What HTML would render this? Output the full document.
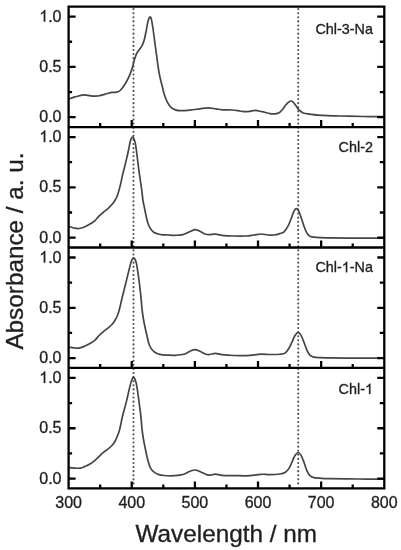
<!DOCTYPE html>
<html><head><meta charset="utf-8"><title>Absorbance spectra</title>
<style>
html,body{margin:0;padding:0;background:#fff;}
body{width:401px;height:550px;overflow:hidden;}
svg{display:block;will-change:transform;}
text{font-family:"Liberation Sans", sans-serif;fill:#1e1e1e;stroke:#2a2a2a;stroke-width:0.35px;}
.g{fill:#1e1e1e;stroke:#2a2a2a;}
</style></head><body>
<svg width="401" height="550" viewBox="0 0 401 550">
<rect width="401" height="550" fill="#fff"/>
<line x1="133.50" y1="9.10" x2="133.50" y2="487.40" stroke="#505050" stroke-width="2.1" stroke-linecap="round" stroke-dasharray="0.01 4.079"/>
<line x1="298.20" y1="9.10" x2="298.20" y2="487.40" stroke="#505050" stroke-width="2.1" stroke-linecap="round" stroke-dasharray="0.01 4.079"/>
<path d="M68.50,99.16 C69.58,98.79 72.47,97.66 75.00,96.94 C77.53,96.22 81.08,94.99 83.70,94.82 C86.32,94.65 88.37,95.73 90.70,95.93 C93.03,96.13 95.38,96.30 97.70,96.03 C100.02,95.76 102.28,94.92 104.60,94.32 C106.92,93.71 109.55,92.75 111.60,92.40 C113.65,92.05 115.43,92.55 116.90,92.20 C118.37,91.85 118.95,91.78 120.40,90.28 C121.85,88.78 124.00,85.87 125.60,83.23 C127.20,80.59 128.83,77.18 130.00,74.46 C131.17,71.74 131.90,69.25 132.60,66.90 C133.30,64.55 133.52,62.62 134.20,60.35 C134.88,58.08 135.77,55.19 136.70,53.29 C137.63,51.39 138.87,50.32 139.80,48.96 C140.73,47.60 141.57,46.61 142.30,45.13 C143.03,43.65 143.57,42.39 144.20,40.09 C144.83,37.79 145.47,34.46 146.10,31.32 C146.73,28.18 147.38,23.64 148.00,21.24 C148.62,18.84 149.23,17.21 149.80,16.90 C150.37,16.59 150.83,17.22 151.40,19.40 C151.97,21.58 152.60,25.93 153.20,30.00 C153.80,34.07 154.38,39.20 155.00,43.80 C155.62,48.40 156.30,53.23 156.90,57.60 C157.50,61.97 158.05,66.57 158.60,70.00 C159.15,73.43 159.58,75.47 160.20,78.20 C160.82,80.93 161.62,83.68 162.30,86.40 C162.98,89.12 163.42,91.78 164.30,94.50 C165.18,97.22 166.43,100.52 167.60,102.70 C168.77,104.88 169.87,106.37 171.30,107.60 C172.73,108.83 174.75,109.60 176.20,110.10 C177.65,110.60 177.70,110.60 180.00,110.60 C182.30,110.60 186.68,110.40 190.00,110.10 C193.32,109.80 196.92,109.18 199.90,108.80 C202.88,108.42 205.23,107.80 207.90,107.80 C210.57,107.80 213.55,108.47 215.90,108.80 C218.25,109.13 219.32,109.60 222.00,109.80 C224.68,110.00 229.00,109.80 232.00,110.00 C235.00,110.20 237.77,110.72 240.00,111.00 C242.23,111.28 243.73,111.65 245.40,111.70 C247.07,111.75 248.37,111.52 250.00,111.30 C251.63,111.08 253.20,110.33 255.20,110.40 C257.20,110.47 259.53,111.17 262.00,111.70 C264.47,112.23 267.83,113.25 270.00,113.60 C272.17,113.95 273.40,114.00 275.00,113.80 C276.60,113.60 278.35,113.12 279.60,112.40 C280.85,111.68 281.57,110.62 282.50,109.50 C283.43,108.38 284.28,106.85 285.20,105.70 C286.12,104.55 287.07,103.38 288.00,102.60 C288.93,101.82 290.00,101.13 290.80,101.00 C291.60,100.87 292.15,101.30 292.80,101.80 C293.45,102.30 294.05,103.17 294.70,104.00 C295.35,104.83 296.03,105.87 296.70,106.80 C297.37,107.73 297.62,108.57 298.70,109.60 C299.78,110.63 301.33,112.23 303.20,113.00 C305.07,113.77 307.43,113.85 309.90,114.20 C312.37,114.55 312.83,114.78 318.00,115.08 C323.17,115.38 333.27,115.75 340.90,115.99 C348.53,116.22 356.62,116.37 363.80,116.49 C370.98,116.61 380.63,116.66 384.00,116.69" fill="none" stroke="#454545" stroke-width="1.70" stroke-linejoin="round"/>
<path d="M68.50,226.60 C68.78,226.63 69.28,226.57 70.20,226.80 C71.12,227.03 72.50,227.72 74.00,228.00 C75.50,228.28 77.37,228.72 79.20,228.50 C81.03,228.28 83.20,227.44 85.00,226.70 C86.80,225.96 88.33,225.11 90.00,224.09 C91.67,223.07 93.50,221.90 95.00,220.56 C96.50,219.22 97.67,217.37 99.00,216.03 C100.33,214.69 101.52,213.74 103.00,212.50 C104.48,211.26 106.42,209.90 107.90,208.57 C109.38,207.24 110.73,205.88 111.90,204.54 C113.07,203.19 113.98,202.01 114.90,200.50 C115.82,198.99 116.68,197.31 117.40,195.46 C118.12,193.61 118.60,191.60 119.20,189.42 C119.80,187.24 120.45,184.73 121.00,182.36 C121.55,179.99 121.68,178.66 122.50,175.20 C123.32,171.74 124.87,165.92 125.90,161.59 C126.93,157.26 127.97,152.59 128.70,149.20 C129.43,145.81 129.75,143.21 130.30,141.23 C130.85,139.25 131.43,137.77 132.00,137.30 C132.57,136.83 133.13,137.37 133.70,138.41 C134.27,139.45 134.83,140.63 135.40,143.55 C135.97,146.47 136.53,151.61 137.10,155.95 C137.67,160.28 138.25,165.41 138.80,169.56 C139.35,173.71 139.90,177.37 140.40,180.85 C140.90,184.33 141.38,187.23 141.80,190.42 C142.22,193.61 142.47,197.15 142.90,200.00 C143.33,202.85 143.90,205.00 144.40,207.50 C144.90,210.00 145.35,212.52 145.90,215.00 C146.45,217.48 146.97,220.17 147.70,222.40 C148.43,224.63 149.30,226.77 150.30,228.40 C151.30,230.03 152.38,231.27 153.70,232.20 C155.02,233.13 156.65,233.57 158.20,234.00 C159.75,234.43 161.38,234.63 163.00,234.80 C164.62,234.97 165.92,234.92 167.90,235.00 C169.88,235.08 172.40,235.34 174.90,235.28 C177.40,235.22 180.57,235.21 182.90,234.67 C185.23,234.13 186.90,232.89 188.90,232.05 C190.90,231.21 193.07,229.76 194.90,229.63 C196.73,229.50 198.23,230.52 199.90,231.25 C201.57,231.98 203.30,233.44 204.90,234.00 C206.50,234.56 207.73,234.57 209.50,234.60 C211.27,234.63 213.08,234.03 215.50,234.20 C217.92,234.37 220.92,235.30 224.00,235.60 C227.08,235.90 230.35,235.93 234.00,236.00 C237.65,236.07 242.58,236.17 245.90,236.00 C249.22,235.83 251.40,235.33 253.90,235.00 C256.40,234.67 258.57,234.00 260.90,234.00 C263.23,234.00 265.73,234.83 267.90,235.00 C270.07,235.17 271.90,235.23 273.90,235.00 C275.90,234.77 278.22,234.13 279.90,233.60 C281.58,233.07 282.65,233.03 284.00,231.80 C285.35,230.57 286.83,228.33 288.00,226.20 C289.17,224.07 290.00,221.52 291.00,219.00 C292.00,216.48 293.12,212.83 294.00,211.10 C294.88,209.37 295.55,208.68 296.30,208.60 C297.05,208.52 297.72,209.18 298.50,210.60 C299.28,212.02 300.08,214.50 301.00,217.10 C301.92,219.70 303.02,223.52 304.00,226.20 C304.98,228.88 305.92,231.50 306.90,233.16 C307.88,234.82 308.73,235.52 309.90,236.19 C311.07,236.86 312.23,236.94 313.90,237.19 C315.57,237.44 317.35,237.58 319.90,237.70 C322.45,237.82 324.45,237.83 329.20,237.90 C333.95,237.97 339.27,238.05 348.40,238.10 C357.53,238.15 378.07,238.18 384.00,238.20" fill="none" stroke="#454545" stroke-width="1.70" stroke-linejoin="round"/>
<path d="M68.50,347.20 C68.78,347.22 69.03,347.17 70.20,347.30 C71.37,347.43 73.87,347.90 75.50,348.00 C77.13,348.10 78.42,348.23 80.00,347.90 C81.58,347.57 83.33,346.72 85.00,346.00 C86.67,345.28 88.33,344.57 90.00,343.58 C91.67,342.59 93.50,341.40 95.00,340.06 C96.50,338.72 97.75,336.81 99.00,335.52 C100.25,334.22 101.02,333.53 102.50,332.29 C103.98,331.05 106.33,329.35 107.90,328.06 C109.47,326.77 110.73,325.79 111.90,324.53 C113.07,323.27 113.98,322.01 114.90,320.50 C115.82,318.99 116.70,317.14 117.40,315.46 C118.10,313.78 118.57,312.27 119.10,310.42 C119.63,308.57 120.03,306.72 120.60,304.37 C121.17,302.02 121.62,299.92 122.50,296.31 C123.38,292.70 124.78,287.22 125.90,282.70 C127.02,278.18 128.27,272.85 129.20,269.19 C130.13,265.53 130.75,262.61 131.50,260.73 C132.25,258.85 132.95,257.72 133.70,257.90 C134.45,258.08 135.35,259.76 136.00,261.83 C136.65,263.90 137.05,266.82 137.60,270.30 C138.15,273.78 138.73,278.18 139.30,282.70 C139.87,287.22 140.53,292.88 141.00,297.42 C141.47,301.96 141.67,306.16 142.10,309.92 C142.53,313.68 143.10,317.07 143.60,320.00 C144.10,322.93 144.57,325.00 145.10,327.50 C145.63,330.00 146.23,332.52 146.80,335.00 C147.37,337.48 147.78,340.17 148.50,342.40 C149.22,344.63 150.05,346.77 151.10,348.40 C152.15,350.03 153.37,351.22 154.80,352.20 C156.23,353.18 157.52,353.82 159.70,354.30 C161.88,354.78 165.37,354.94 167.90,355.10 C170.43,355.26 172.23,355.42 174.90,355.28 C177.57,355.14 181.40,354.94 183.90,354.27 C186.40,353.60 188.07,352.01 189.90,351.24 C191.73,350.47 193.23,349.63 194.90,349.63 C196.57,349.63 198.07,350.48 199.90,351.24 C201.73,352.00 204.30,353.66 205.90,354.20 C207.50,354.74 207.90,354.65 209.50,354.50 C211.10,354.35 213.42,353.27 215.50,353.30 C217.58,353.33 218.92,354.33 222.00,354.70 C225.08,355.07 229.35,355.38 234.00,355.50 C238.65,355.62 245.42,355.63 249.90,355.40 C254.38,355.17 257.57,354.25 260.90,354.10 C264.23,353.95 266.73,354.47 269.90,354.50 C273.07,354.53 277.38,354.49 279.90,354.27 C282.42,354.05 283.48,354.17 285.00,353.16 C286.52,352.15 287.83,350.06 289.00,348.20 C290.17,346.34 291.00,344.12 292.00,342.00 C293.00,339.88 294.00,337.12 295.00,335.50 C296.00,333.88 297.02,332.37 298.00,332.30 C298.98,332.23 299.92,333.48 300.90,335.10 C301.88,336.72 302.90,339.49 303.90,342.00 C304.90,344.51 305.90,347.94 306.90,350.14 C307.90,352.34 308.73,354.00 309.90,355.18 C311.07,356.36 312.23,356.77 313.90,357.19 C315.57,357.61 317.35,357.58 319.90,357.70 C322.45,357.82 322.85,357.83 329.20,357.90 C335.55,357.97 348.87,358.05 358.00,358.10 C367.13,358.15 379.67,358.18 384.00,358.20" fill="none" stroke="#454545" stroke-width="1.70" stroke-linejoin="round"/>
<path d="M68.50,467.60 C68.78,467.62 69.03,467.60 70.20,467.70 C71.37,467.80 73.75,468.13 75.50,468.20 C77.25,468.27 79.12,468.40 80.70,468.10 C82.28,467.80 83.45,467.07 85.00,466.40 C86.55,465.73 88.33,465.09 90.00,464.08 C91.67,463.07 93.42,461.69 95.00,460.35 C96.58,459.01 98.17,457.30 99.50,456.02 C100.83,454.74 101.60,453.85 103.00,452.69 C104.40,451.53 106.42,450.25 107.90,449.06 C109.38,447.87 110.73,446.80 111.90,445.54 C113.07,444.28 113.98,443.10 114.90,441.50 C115.82,439.90 116.65,437.81 117.40,435.96 C118.15,434.11 118.83,432.35 119.40,430.42 C119.97,428.49 120.28,426.72 120.80,424.37 C121.32,422.02 121.57,420.10 122.50,416.30 C123.43,412.50 125.18,406.50 126.40,401.59 C127.62,396.68 128.87,390.55 129.80,386.87 C130.73,383.19 131.35,381.11 132.00,379.51 C132.65,377.91 133.03,376.83 133.70,377.30 C134.37,377.77 135.35,379.98 136.00,382.33 C136.65,384.68 137.05,387.81 137.60,391.41 C138.15,395.01 138.73,399.58 139.30,403.91 C139.87,408.24 140.53,413.08 141.00,417.41 C141.47,421.74 141.67,426.15 142.10,429.91 C142.53,433.68 143.10,437.07 143.60,440.00 C144.10,442.93 144.60,445.00 145.10,447.50 C145.60,450.00 146.03,452.52 146.60,455.00 C147.17,457.48 147.82,460.17 148.50,462.40 C149.18,464.63 149.77,466.77 150.70,468.40 C151.63,470.03 152.85,471.20 154.10,472.20 C155.35,473.20 156.52,473.85 158.20,474.40 C159.88,474.95 161.42,475.29 164.20,475.50 C166.98,475.71 171.62,475.89 174.90,475.68 C178.18,475.47 181.40,475.00 183.90,474.26 C186.40,473.52 187.90,471.94 189.90,471.24 C191.90,470.54 194.07,469.89 195.90,470.03 C197.73,470.16 199.23,471.34 200.90,472.05 C202.57,472.76 204.47,473.78 205.90,474.30 C207.33,474.82 207.90,475.23 209.50,475.20 C211.10,475.17 213.42,474.08 215.50,474.10 C217.58,474.12 218.92,475.05 222.00,475.30 C225.08,475.55 229.35,475.53 234.00,475.60 C238.65,475.67 245.42,475.92 249.90,475.70 C254.38,475.48 257.57,474.48 260.90,474.30 C264.23,474.12 266.73,474.65 269.90,474.60 C273.07,474.55 277.38,474.33 279.90,474.00 C282.42,473.67 283.48,473.53 285.00,472.60 C286.52,471.67 287.83,470.17 289.00,468.40 C290.17,466.63 291.00,464.15 292.00,462.00 C293.00,459.85 294.00,457.08 295.00,455.50 C296.00,453.92 297.02,452.57 298.00,452.50 C298.98,452.43 299.92,453.52 300.90,455.10 C301.88,456.68 302.90,459.41 303.90,462.00 C304.90,464.59 305.90,468.36 306.90,470.64 C307.90,472.92 308.73,474.50 309.90,475.68 C311.07,476.86 312.23,477.27 313.90,477.69 C315.57,478.11 317.35,478.05 319.90,478.20 C322.45,478.35 322.85,478.47 329.20,478.60 C335.55,478.73 348.87,478.90 358.00,479.00 C367.13,479.10 379.67,479.17 384.00,479.20" fill="none" stroke="#454545" stroke-width="1.70" stroke-linejoin="round"/>
<path d="M68.60,117.20H75.60 M384.30,117.20H377.30 M68.60,92.05H72.10 M384.30,92.05H379.80 M68.60,66.90H75.60 M384.30,66.90H377.30 M68.60,41.75H72.10 M384.30,41.75H379.80 M68.60,16.60H75.60 M384.30,16.60H377.30 M100.17,127.05V123.05 M131.74,127.05V120.05 M163.31,127.05V123.05 M194.88,127.05V120.05 M226.45,127.05V123.05 M258.02,127.05V120.05 M289.59,127.05V123.05 M321.16,127.05V120.05 M352.73,127.05V123.05 M68.60,237.65H75.60 M384.30,237.65H377.30 M68.60,212.50H72.10 M384.30,212.50H379.80 M68.60,187.35H75.60 M384.30,187.35H377.30 M68.60,162.20H72.10 M384.30,162.20H379.80 M68.60,137.05H75.60 M384.30,137.05H377.30 M100.17,247.50V243.50 M131.74,247.50V240.50 M163.31,247.50V243.50 M194.88,247.50V240.50 M226.45,247.50V243.50 M258.02,247.50V240.50 M289.59,247.50V243.50 M321.16,247.50V240.50 M352.73,247.50V243.50 M68.60,358.10H75.60 M384.30,358.10H377.30 M68.60,332.95H72.10 M384.30,332.95H379.80 M68.60,307.80H75.60 M384.30,307.80H377.30 M68.60,282.65H72.10 M384.30,282.65H379.80 M68.60,257.50H75.60 M384.30,257.50H377.30 M100.17,367.95V363.95 M131.74,367.95V360.95 M163.31,367.95V363.95 M194.88,367.95V360.95 M226.45,367.95V363.95 M258.02,367.95V360.95 M289.59,367.95V363.95 M321.16,367.95V360.95 M352.73,367.95V363.95 M68.60,478.55H75.60 M384.30,478.55H377.30 M68.60,453.40H72.10 M384.30,453.40H379.80 M68.60,428.25H75.60 M384.30,428.25H377.30 M68.60,403.10H72.10 M384.30,403.10H379.80 M68.60,377.95H75.60 M384.30,377.95H377.30 M100.17,488.40V484.40 M131.74,488.40V481.40 M163.31,488.40V484.40 M194.88,488.40V481.40 M226.45,488.40V484.40 M258.02,488.40V481.40 M289.59,488.40V484.40 M321.16,488.40V481.40 M352.73,488.40V484.40" stroke="#000" stroke-width="2.30" fill="none"/>
<path d="M68.60,6.60H384.30V488.40H68.60Z M68.60,127.05H384.30 M68.60,247.50H384.30 M68.60,367.95H384.30" stroke="#000" stroke-width="2.30" fill="none" stroke-linejoin="miter"/>
<path class="g" transform="translate(39.26,21.60) scale(0.00781,-0.00781)" stroke-width="44.8" d="M763,0 L583,0 L583,1147 Q518,1085 412,1023 Q306,961 222,930 L222,1104 Q373,1175 486,1276 Q599,1377 646,1472 L763,1472 Z"/>
<text x="48.16" y="21.60" font-size="16.00">.0</text>
<text x="39.26" y="71.90" font-size="16.00">0.5</text>
<text x="39.26" y="122.20" font-size="16.00">0.0</text>
<path class="g" transform="translate(39.26,142.05) scale(0.00781,-0.00781)" stroke-width="44.8" d="M763,0 L583,0 L583,1147 Q518,1085 412,1023 Q306,961 222,930 L222,1104 Q373,1175 486,1276 Q599,1377 646,1472 L763,1472 Z"/>
<text x="48.16" y="142.05" font-size="16.00">.0</text>
<text x="39.26" y="192.35" font-size="16.00">0.5</text>
<text x="39.26" y="242.65" font-size="16.00">0.0</text>
<path class="g" transform="translate(39.26,262.50) scale(0.00781,-0.00781)" stroke-width="44.8" d="M763,0 L583,0 L583,1147 Q518,1085 412,1023 Q306,961 222,930 L222,1104 Q373,1175 486,1276 Q599,1377 646,1472 L763,1472 Z"/>
<text x="48.16" y="262.50" font-size="16.00">.0</text>
<text x="39.26" y="312.80" font-size="16.00">0.5</text>
<text x="39.26" y="363.10" font-size="16.00">0.0</text>
<path class="g" transform="translate(39.26,382.95) scale(0.00781,-0.00781)" stroke-width="44.8" d="M763,0 L583,0 L583,1147 Q518,1085 412,1023 Q306,961 222,930 L222,1104 Q373,1175 486,1276 Q599,1377 646,1472 L763,1472 Z"/>
<text x="48.16" y="382.95" font-size="16.00">.0</text>
<text x="39.26" y="433.25" font-size="16.00">0.5</text>
<text x="39.26" y="483.55" font-size="16.00">0.0</text>
<text x="68.60" y="508.0" text-anchor="middle" font-size="16.0">300</text>
<text x="131.74" y="508.0" text-anchor="middle" font-size="16.0">400</text>
<text x="194.88" y="508.0" text-anchor="middle" font-size="16.0">500</text>
<text x="258.02" y="508.0" text-anchor="middle" font-size="16.0">600</text>
<text x="321.16" y="508.0" text-anchor="middle" font-size="16.0">700</text>
<text x="384.30" y="508.0" text-anchor="middle" font-size="16.0">800</text>
<text x="315.40" y="33.90" font-size="14.40">Chl-3-Na</text>
<text x="338.60" y="152.20" font-size="14.40">Chl-2</text>
<text x="315.40" y="272.20" font-size="14.40">Chl-</text>
<path class="g" transform="translate(341.80,272.20) scale(0.00703,-0.00703)" stroke-width="49.8" d="M763,0 L583,0 L583,1147 Q518,1085 412,1023 Q306,961 222,930 L222,1104 Q373,1175 486,1276 Q599,1377 646,1472 L763,1472 Z"/>
<text x="349.80" y="272.20" font-size="14.40">-Na</text>
<text x="338.60" y="394.00" font-size="14.40">Chl-</text>
<path class="g" transform="translate(364.99,394.00) scale(0.00703,-0.00703)" stroke-width="49.8" d="M763,0 L583,0 L583,1147 Q518,1085 412,1023 Q306,961 222,930 L222,1104 Q373,1175 486,1276 Q599,1377 646,1472 L763,1472 Z"/>
<text x="226.3" y="542" text-anchor="middle" font-size="24.3">Wavelength / nm</text>
<text transform="translate(23,251) rotate(-90)" text-anchor="middle" font-size="24.3">Absorbance / a. u.</text>
</svg>
</body></html>
